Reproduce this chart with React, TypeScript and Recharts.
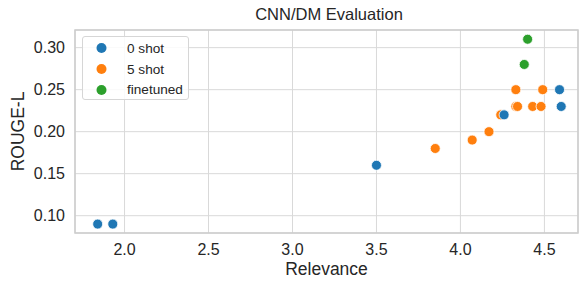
import { ScatterChart, Scatter, XAxis, YAxis, CartesianGrid, ReferenceArea } from 'recharts';

const zeroShotRelevance = [1.84, 1.93, 3.5, 4.26, 4.59, 4.6];
const zeroShotRouge = [0.09, 0.09, 0.16, 0.22, 0.25, 0.23];

const fiveShotRelevance = [3.85, 4.07, 4.17, 4.24, 4.33, 4.49, 4.33, 4.34, 4.43, 4.48];
const fiveShotRouge = [0.18, 0.19, 0.2, 0.22, 0.25, 0.25, 0.23, 0.23, 0.23, 0.23];

const finetunedRelevance = [4.4, 4.38];
const finetunedRouge = [0.31, 0.28];

const xTicks = [2.0, 2.5, 3.0, 3.5, 4.0, 4.5];
const yTicks = [0.1, 0.15, 0.2, 0.25, 0.3];

const toPoints = (xs: number[], ys: number[]) => xs.map((x, i) => ({ x, y: ys[i] }));

const series = [
  { name: '0 shot', color: '#1f77b4', data: toPoints(zeroShotRelevance, zeroShotRouge) },
  { name: '5 shot', color: '#ff7f0e', data: toPoints(fiveShotRelevance, fiveShotRouge) },
  { name: 'finetuned', color: '#2ca02c', data: toPoints(finetunedRelevance, finetunedRouge) },
];

// blue points sit on top of the orange ones in the original
const drawOrder = [series[1], series[0], series[2]];

const FONT = '"Liberation Sans", Arial, sans-serif';
const TEXT = '#262626';
const X_DOMAIN: [number, number] = [1.705, 4.7];
const Y_DOMAIN: [number, number] = [0.0794, 0.321];

function dot(color: string) {
  // seaborn-style marker: filled circle with a thin white edge
  return (props: any) => (
    <circle cx={props.cx} cy={props.cy} r={5} fill={color} stroke="#ffffff" strokeWidth={0.8} />
  );
}

function LegendBox() {
  return (
    <div
      style={{
        position: 'absolute',
        left: 82,
        top: 36,
        width: 107,
        height: 64,
        boxSizing: 'border-box',
        background: 'rgba(255,255,255,0.85)',
        border: '1px solid #d6d6d6',
        borderRadius: 3,
        paddingTop: 1,
        fontFamily: FONT,
        fontSize: 13.6,
        color: TEXT,
      }}
    >
      {series.map((s) => (
        <div key={s.name} style={{ display: 'flex', alignItems: 'center', height: 20.7 }}>
          <svg width={44} height={14} style={{ flex: 'none' }}>
            <circle cx={18.5} cy={7} r={5} fill={s.color} />
          </svg>
          <span>{s.name}</span>
        </div>
      ))}
    </div>
  );
}

const yLabel = (props: any) => {
  const cy = props.viewBox.y + props.viewBox.height / 2;
  return (
    <text
      x={18}
      y={cy}
      transform={`rotate(-90 18 ${cy})`}
      textAnchor="middle"
      dominantBaseline="central"
      fill={TEXT}
      fontSize={17.5}
      fontFamily={FONT}
    >
      ROUGE-L
    </text>
  );
};

export default function App() {
  return (
    <div style={{ position: 'absolute', left: 0, top: 0, width: 581, height: 282, background: '#fff' }}>
      <div
        style={{
          position: 'absolute',
          left: 75,
          width: 508,
          top: 5,
          textAlign: 'center',
          fontFamily: FONT,
          fontSize: 16.5,
          color: TEXT,
        }}
      >
        CNN/DM Evaluation
      </div>
      <ScatterChart width={581} height={282} margin={{ top: 30, right: 3, bottom: 0, left: 0 }}>
        <CartesianGrid stroke="#d9d9d9" strokeWidth={1} />
        <XAxis
          type="number"
          dataKey="x"
          domain={X_DOMAIN}
          ticks={xTicks}
          allowDataOverflow
          height={49}
          axisLine={false}
          tickLine={false}
          tickSize={0}
          tickMargin={11}
          tickFormatter={(v: number) => v.toFixed(1)}
          tick={{ fill: TEXT, fontSize: 16, fontFamily: FONT }}
          label={{
            value: 'Relevance',
            position: 'insideBottom',
            offset: 7,
            style: { fill: TEXT, fontSize: 17.5, fontFamily: FONT },
          }}
        />
        <YAxis
          type="number"
          dataKey="y"
          domain={Y_DOMAIN}
          ticks={yTicks}
          allowDataOverflow
          width={75}
          axisLine={false}
          tickLine={false}
          tickSize={0}
          tickMargin={10}
          tickFormatter={(v: number) => v.toFixed(2)}
          tick={{ fill: TEXT, fontSize: 16, fontFamily: FONT }}
          label={{ content: yLabel }}
        />
        <ReferenceArea
          x1={X_DOMAIN[0]}
          x2={X_DOMAIN[1]}
          y1={Y_DOMAIN[0]}
          y2={Y_DOMAIN[1]}
          fill="none"
          stroke="#cccccc"
          strokeWidth={1.5}
          ifOverflow="visible"
        />
        {drawOrder.map((s) => (
          <Scatter
            key={s.name}
            name={s.name}
            data={s.data}
            fill={s.color}
            shape={dot(s.color)}
            isAnimationActive={false}
          />
        ))}
      </ScatterChart>
      <LegendBox />
    </div>
  );
}
